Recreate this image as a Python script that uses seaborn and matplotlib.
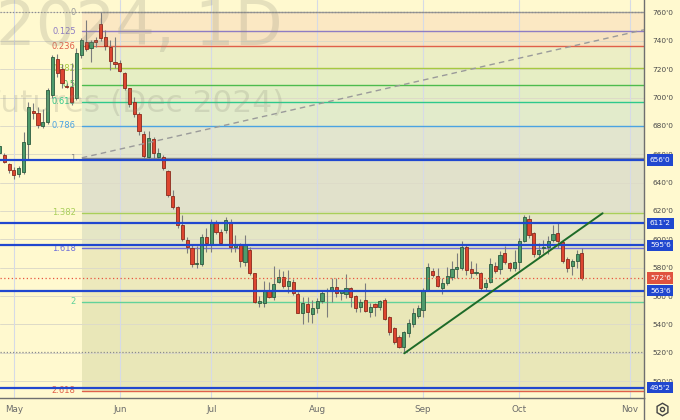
import numpy as np
import matplotlib
matplotlib.use("Agg")
import matplotlib.pyplot as plt
import matplotlib.transforms as mtransforms
from matplotlib.lines import Line2D
import seaborn as sns

sns.set_style("white")
plt.rcParams["font.family"] = ["DejaVu Sans"]

# ---------------- data ----------------
first_bar = -3  # bar index of first candle (May 1 = 0)
opens = [660.7, 659.5, 653.1, 648.9, 646.1, 647.7, 667.0, 690.5, 688.9, 679.9,
         682.6, 701.8, 727.2, 720.1, 708.4, 707.2, 699.9, 730.0, 739.4, 735.2,
         740.6, 751.9, 742.5, 735.9, 725.3, 724.2, 717.1, 706.5, 697.1, 688.4,
         674.3, 658.3, 670.8, 657.9, 657.9, 648.2, 630.6, 623.0, 610.1, 599.5,
         594.1, 582.6, 582.6, 601.9, 596.0, 611.8, 605.4, 606.6, 612.5, 594.4,
         596.0, 583.8, 592.5, 576.1, 555.3, 555.3, 564.3, 559.6, 570.2, 573.2,
         567.1, 570.2, 561.5, 547.9, 554.4, 547.4, 551.4, 556.7, 563.3, 563.6,
         566.6, 562.4, 561.5, 565.5, 560.1, 552.5, 557.2, 548.6, 554.4, 552.1,
         557.2, 545.1, 537.3, 531.4, 524.3, 533.8, 540.3, 546.0, 550.2, 563.8,
         577.7, 574.2, 565.5, 569.0, 573.2, 579.3, 579.6, 594.8, 578.9, 576.3,
         576.1, 566.6, 570.2, 581.4, 578.9, 590.7, 583.1, 579.6, 583.8, 599.1,
         614.1, 604.3, 589.7, 593.7, 594.8, 599.5, 604.3, 598.3, 585.9, 581.0,
         584.8, 590.2]
highs = [668.0, 661.0, 654.1, 651.0, 652.0, 675.5, 697.0, 696.4, 693.1, 692.0,
         706.5, 730.0, 730.7, 723.5, 710.0, 724.2, 734.7, 741.8, 754.7, 740.6,
         742.9, 760.1, 747.6, 740.6, 742.9, 726.5, 718.0, 707.0, 700.6, 690.0,
         676.6, 676.6, 672.4, 664.2, 659.5, 649.0, 634.8, 623.5, 617.2, 601.9,
         596.7, 595.0, 604.0, 607.8, 614.1, 613.7, 607.0, 616.0, 614.1, 603.1,
         597.2, 603.1, 594.4, 576.5, 560.0, 570.5, 570.2, 581.0, 578.9, 578.0,
         578.4, 572.0, 563.1, 559.6, 559.6, 557.2, 558.4, 564.3, 565.5, 572.5,
         572.5, 564.5, 575.4, 566.6, 561.0, 558.2, 569.0, 554.9, 555.0, 557.5,
         558.4, 546.0, 538.0, 532.6, 535.5, 543.6, 551.4, 553.7, 565.5, 583.1,
         579.6, 579.6, 572.5, 580.7, 584.5, 590.2, 598.7, 596.0, 584.4, 583.0,
         577.2, 571.7, 586.6, 584.3, 591.6, 595.4, 584.3, 592.5, 600.7, 617.2,
         617.2, 605.4, 597.2, 599.5, 602.7, 610.1, 611.8, 599.5, 587.5, 585.9,
         592.5, 593.7]
lows = [659.0, 653.6, 647.0, 642.6, 644.2, 646.0, 657.0, 685.0, 678.3, 678.5,
        681.0, 700.0, 714.7, 706.5, 706.5, 695.0, 698.0, 727.7, 733.0, 725.3,
        735.9, 740.0, 733.5, 719.4, 720.6, 718.2, 705.0, 693.0, 686.5, 673.6,
        657.2, 656.0, 656.0, 656.0, 648.9, 630.0, 621.2, 607.8, 599.0, 590.2,
        580.7, 579.6, 581.4, 591.3, 591.3, 603.5, 596.0, 604.3, 591.3, 591.3,
        580.7, 581.4, 574.9, 555.0, 552.5, 552.1, 558.4, 557.2, 569.0, 566.0,
        562.0, 561.0, 547.9, 540.3, 541.9, 540.8, 547.9, 555.3, 545.1, 556.0,
        559.0, 557.5, 558.4, 552.1, 549.0, 549.0, 548.6, 545.5, 546.0, 550.0,
        543.0, 532.8, 526.5, 523.2, 520.8, 531.0, 538.4, 544.3, 545.1, 563.5,
        573.7, 566.6, 561.5, 568.0, 571.0, 572.5, 578.4, 574.9, 572.5, 575.0,
        564.3, 564.5, 569.0, 576.1, 575.4, 582.4, 577.4, 578.0, 578.4, 598.3,
        601.0, 587.8, 587.0, 590.2, 590.0, 598.3, 593.7, 583.1, 577.2, 575.0,
        579.6, 571.4]
closes = [666.1, 654.8, 648.9, 645.4, 650.5, 668.9, 693.6, 688.9, 680.7, 682.6,
          705.3, 728.4, 717.5, 710.0, 707.2, 696.7, 731.6, 740.6, 734.0, 739.0,
          739.4, 742.2, 736.6, 725.8, 723.7, 718.9, 706.5, 695.5, 688.4, 676.6,
          659.0, 671.3, 660.7, 661.1, 650.5, 631.3, 623.0, 610.1, 600.0, 594.4,
          582.6, 583.5, 601.9, 597.2, 612.5, 605.4, 597.6, 613.7, 594.8, 596.0,
          585.0, 596.0, 576.1, 556.0, 556.0, 563.8, 559.6, 568.5, 573.2, 567.1,
          570.7, 562.4, 548.3, 554.9, 548.8, 551.4, 556.7, 562.0, 563.8, 566.6,
          562.0, 562.8, 565.5, 559.6, 551.4, 556.0, 549.7, 552.1, 552.1, 556.7,
          543.6, 534.9, 527.8, 524.3, 534.9, 541.2, 548.3, 551.4, 564.3, 580.7,
          574.9, 567.1, 569.0, 573.9, 579.1, 579.6, 594.8, 578.4, 576.1, 576.5,
          565.5, 569.0, 582.6, 577.7, 589.3, 583.8, 579.6, 584.3, 599.1, 615.6,
          603.1, 589.7, 592.5, 594.8, 599.1, 603.7, 599.1, 585.0, 579.6, 585.0,
          589.7, 572.75]

month_labels = ["May", "Jun", "Jul", "Aug", "Sep", "Oct", "Nov"]
month_bars = [0, 22, 41, 63, 85, 105, 128]

price_ticks = [500, 520, 540, 560, 580, 600, 620, 640, 660, 680, 700, 720, 740, 760]
key_levels = [656.0, 611.25, 595.75, 563.75, 495.25]
last_price = 572.75
swing_high = 760.0
swing_low = 520.5

fib_names = ["0", "0.125", "0.236", "0.382", "0.5", "0.618", "0.786",
             "1", "1.382", "1.618", "2", "2.618"]
fib_prices = [760.0, 746.7, 736.1, 720.8, 708.9, 696.9, 680.0,
              657.3, 618.8, 593.8, 556.0, 493.3]
fib_start_bar = 14.1

dash_bars = [14.1, 146.7]
dash_prices = [657.5, 760.0]
trend_bars = [81.1, 122.3]
trend_prices = [519.6, 618.4]

# ---------------- style ----------------
BG = "#FFF9CF"
fib_line_colors = ["#9a9a9a", "#8E7CC3", "#E0604A", "#A6C940", "#4DBB4D", "#2DC98C",
                   "#4AA3E2", "#8a8a8a", "#A9CF5A", "#6F6FD8", "#62D29A", "#E0604A"]
fib_band_colors = ["#FBE8C3", "#F7E3C1", "#ECEEC5", "#E6EEC4", "#E3EDC6", "#E2EBCB",
                   "#E2E5CE", "#E1E1CB", "#E5E6C5", "#EDE9BC", "#E9E7B8"]
BLUE = "#2047CF"

fig = plt.figure(figsize=(6.8, 4.2), dpi=100, facecolor=BG)
ax = fig.add_axes([0, 22 / 420, 644 / 680, 398 / 420], facecolor=BG)
ax.set_xlim(-2.89, 130.9)
ax.set_ylim(488.1, 768.8)

# watermark
fig.text(-4 / 680, (420 - 45) / 420, "2024, 1D", fontsize=45, color="#8a8a7a",
         alpha=0.22, ha="left", va="baseline", zorder=0)
fig.text(284 / 680, (420 - 112) / 420, "Wheat Futures (Dec 2024)", fontsize=22.5,
         color="#8a8a7a", alpha=0.22, ha="right", va="baseline", zorder=0)

# grid
for p in price_ticks:
    ax.axhline(p, color="#DDDBC8", lw=0.7, zorder=0.5)
for b in month_bars:
    ax.axvline(b, color="#D6DAE6", lw=0.8, zorder=0.6)

# fib bands, lines and labels
xr = 140
for i in range(len(fib_prices) - 1):
    ax.fill_between([fib_start_bar, xr], fib_prices[i + 1], fib_prices[i],
                    color=fib_band_colors[i], lw=0, zorder=0.4)
for name, p, col in zip(fib_names, fib_prices, fib_line_colors):
    ax.plot([fib_start_bar, xr], [p, p], color=col, lw=1.0, zorder=1)
    ax.text(fib_start_bar - 1.25, p, name, color=col, fontsize=6,
            ha="right", va="center", zorder=2)

# candles
x = np.arange(len(opens)) + first_bar
o, h, l, c = (np.array(v, dtype=float) for v in (opens, highs, lows, closes))
up = c >= o
body_lo = np.minimum(o, c)
body_h = np.maximum(np.abs(c - o), 0.9)
ax.vlines(x, l, h, color="#7c7c7c", lw=0.8, zorder=3)
ax.bar(x[up], body_h[up], bottom=body_lo[up], width=0.66, color="#4E9B6C",
       edgecolor="#2C5A3E", lw=0.6, zorder=4)
ax.bar(x[~up], body_h[~up], bottom=body_lo[~up], width=0.66, color="#DD4530",
       edgecolor="#8A2A1C", lw=0.6, zorder=4)

# drawings
ax.axhline(swing_high, color="#8c8c8c", lw=0.9, ls=(0, (1, 1.5)), zorder=5)
ax.axhline(swing_low, color="#8c8c8c", lw=0.9, ls=(0, (1, 1.5)), zorder=5)
ax.axhline(last_price, color="#E8553F", lw=0.9, ls=(0, (1, 2)), zorder=5)
for p in key_levels:
    ax.axhline(p, color=BLUE, lw=1.6, zorder=6)
sns.lineplot(x=dash_bars, y=dash_prices, ax=ax, color="#9a9a9a", lw=1.0,
             linestyle=(0, (4, 3)), zorder=5, legend=False)
sns.lineplot(x=trend_bars, y=trend_prices, ax=ax, color="#1E6B28", lw=1.4,
             zorder=7, legend=False)

# axes cosmetics
for s in ["top", "left"]:
    ax.spines[s].set_visible(False)
for s in ["right", "bottom"]:
    ax.spines[s].set_color("#6f6f6f")
    ax.spines[s].set_linewidth(1.0)
ax.yaxis.tick_right()
ax.set_yticks(price_ticks)
ax.set_yticklabels([f"{p}'0" for p in price_ticks])
ax.tick_params(axis="y", length=0, pad=6, labelsize=5.3, labelcolor="#4a4a4a")
ax.set_xticks(month_bars)
ax.set_xticklabels(month_labels)
ax.tick_params(axis="x", length=0, pad=5, labelsize=6.3, labelcolor="#6b6b6b")
fig.add_artist(Line2D([644 / 680, 644 / 680], [0, 22 / 420], color="#6f6f6f",
                      lw=1.0, transform=fig.transFigure))


def frac_label(p):
    whole = int(np.floor(p + 1e-9))
    eighth = int(round((p - whole) * 8))
    return f"{whole}'{eighth}"


trans = mtransforms.blended_transform_factory(ax.transAxes, ax.transData)
for p in key_levels:
    ax.text(1.0 + 6 / 644, p, frac_label(p), transform=trans, color="white",
            fontsize=5.3, ha="left", va="center", clip_on=False, zorder=10,
            bbox=dict(boxstyle="square,pad=0.35", fc=BLUE, ec="none"))
ax.text(1.0 + 6 / 644, last_price, frac_label(last_price), transform=trans,
        color="white", fontsize=5.3, ha="left", va="center", clip_on=False,
        zorder=10, bbox=dict(boxstyle="square,pad=0.35", fc="#E0533F", ec="none"))

# settings icon
fig.add_artist(Line2D([662 / 680], [11 / 420], marker="h", ms=9, mfc="none",
                      mec="#444444", mew=1.0, transform=fig.transFigure))
fig.add_artist(Line2D([662 / 680], [11 / 420], marker="o", ms=3, mfc="none",
                      mec="#444444", mew=1.0, transform=fig.transFigure))

fig.savefig("out.png", dpi=100, facecolor=BG)
